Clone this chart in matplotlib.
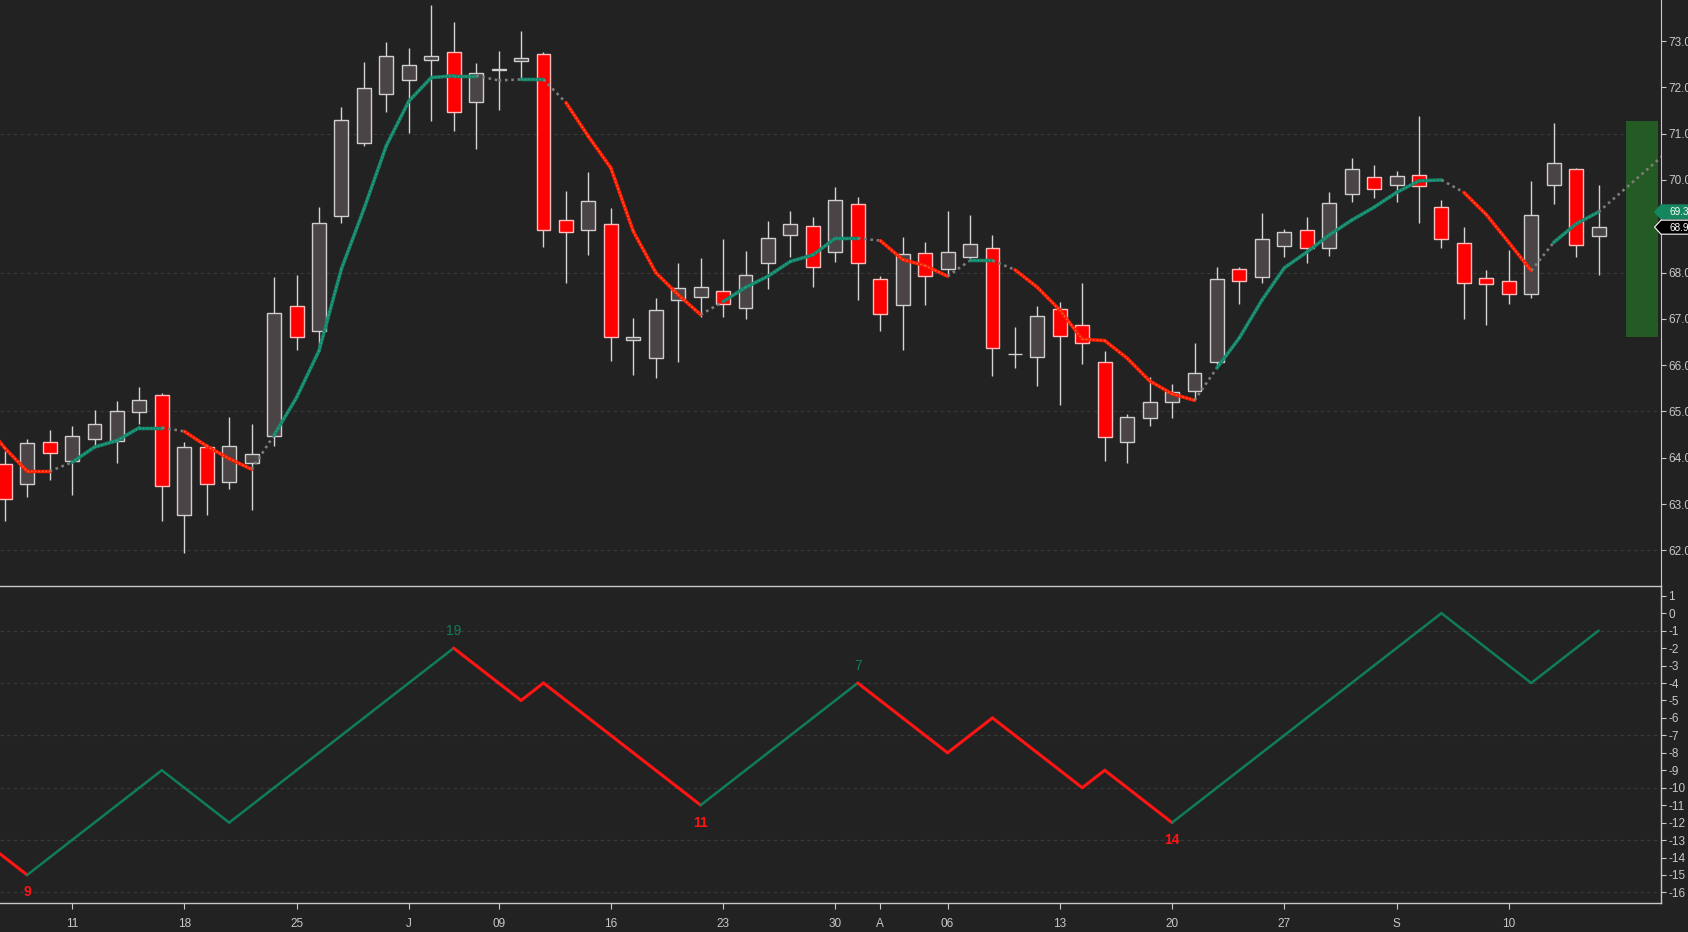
import matplotlib
matplotlib.use('Agg')
import matplotlib.pyplot as plt
import matplotlib.transforms as mtransforms
from matplotlib.patches import Polygon
import numpy as np

plt.rcParams['font.family'] = ['Liberation Sans', 'DejaVu Sans']
plt.rcParams['axes.unicode_minus'] = False

# daily bars, 06 Jun .. 14 Sep
opens = [63.86, 63.43, 64.34, 63.93, 64.40, 64.36, 64.99, 65.35, 62.77, 64.23,
         63.48, 63.89, 64.48, 67.27, 66.74, 69.23, 70.80, 71.85, 72.15, 72.60,
         72.76, 71.68, 72.37, 72.57, 72.73, 69.13, 68.92, 69.05, 66.55, 66.15,
         67.41, 67.47, 67.60, 67.23, 68.20, 68.81, 69.00, 68.44, 69.48, 67.85,
         67.30, 68.42, 68.07, 68.33, 68.53, 66.23, 66.18, 67.21, 66.86, 66.07,
         64.35, 64.86, 65.21, 65.44, 66.07, 68.07, 67.90, 68.57, 68.92, 68.53,
         69.69, 70.06, 69.89, 70.10, 69.41, 68.64, 67.88, 67.81, 67.53, 69.89,
         70.23, 68.79]
highs = [64.15, 64.40, 64.59, 64.69, 65.04, 65.23, 65.52, 65.40, 64.35, 64.30,
         64.87, 64.73, 67.91, 67.95, 69.42, 71.58, 72.55, 72.98, 72.86, 73.78,
         73.41, 72.52, 72.79, 73.22, 72.76, 69.77, 70.18, 69.40, 67.02, 67.44,
         68.21, 68.32, 68.73, 68.47, 69.12, 69.33, 69.19, 69.85, 69.64, 67.92,
         68.77, 68.66, 69.33, 69.25, 68.80, 66.83, 67.27, 67.37, 67.78, 66.31,
         64.94, 65.74, 65.60, 66.47, 68.12, 68.11, 69.28, 68.94, 69.19, 69.73,
         70.48, 70.32, 70.19, 71.39, 69.56, 68.99, 68.06, 68.49, 69.98, 71.23,
         70.26, 69.90]
lows = [62.64, 63.16, 63.52, 63.20, 64.23, 63.88, 64.72, 62.64, 61.95, 62.76,
        63.32, 62.88, 64.25, 66.32, 66.39, 69.08, 70.73, 71.47, 71.02, 71.27,
        71.05, 70.66, 71.52, 72.17, 68.55, 67.77, 68.37, 66.10, 65.78, 65.72,
        66.06, 67.05, 67.03, 66.99, 67.64, 68.34, 67.68, 68.22, 67.40, 66.73,
        66.33, 67.29, 67.92, 68.24, 65.76, 65.93, 65.56, 65.14, 66.02, 63.94,
        63.88, 64.68, 64.85, 65.27, 65.94, 67.31, 67.77, 68.33, 68.20, 68.35,
        69.53, 69.62, 69.52, 69.06, 68.54, 66.99, 66.86, 67.31, 67.46, 69.48,
        68.33, 67.94]
closes = [63.10, 64.32, 64.10, 64.47, 64.73, 65.01, 65.25, 63.40, 64.23, 63.44,
          64.26, 64.08, 67.13, 66.61, 69.06, 71.29, 71.98, 72.67, 72.48, 72.67,
          71.47, 72.32, 72.38, 72.63, 68.92, 68.88, 69.54, 66.61, 66.61, 67.19,
          67.66, 67.69, 67.32, 67.94, 68.74, 69.05, 68.12, 69.56, 68.20, 67.10,
          68.40, 67.92, 68.44, 68.61, 66.37, 66.24, 67.06, 66.63, 66.48, 64.45,
          64.89, 65.21, 65.42, 65.83, 67.85, 67.81, 68.72, 68.87, 68.53, 69.50,
          70.23, 69.80, 70.08, 69.87, 68.73, 67.77, 67.75, 67.53, 69.24, 70.36,
          68.59, 68.98]

# trend line, starts one bar before the first visible candle
trend_line = [64.81,
              64.21, 63.71, 63.71, 63.90, 64.23, 64.37, 64.65, 64.65, 64.57, 64.25,
              63.98, 63.75, 64.49, 65.30, 66.31, 68.08, 69.37, 70.74, 71.70, 72.21,
              72.25, 72.25, 72.15, 72.17, 72.17, 71.67, 70.94, 70.26, 68.89, 68.00,
              67.52, 67.09, 67.37, 67.68, 67.92, 68.24, 68.38, 68.74, 68.74, 68.69,
              68.28, 68.15, 67.92, 68.26, 68.26, 68.06, 67.68, 67.19, 66.56, 66.53,
              66.15, 65.66, 65.38, 65.24, 65.94, 66.59, 67.40, 68.10, 68.44, 68.81,
              69.13, 69.41, 69.73, 69.98, 70.00, 69.73, 69.25, 68.65, 68.04, 68.65,
              69.05, 69.31]
proj_bars = [71, 74]
proj_vals = [69.31, 70.58]
range_box = [72.2, 73.65, 66.6, 71.27]

# swing counter in lower panel (bar -1 .. 71)
counter = [-13,
           -14, -15, -14, -13, -12, -11, -10, -9, -10, -11,
           -12, -11, -10, -9, -8, -7, -6, -5, -4, -3,
           -2, -3, -4, -5, -4, -5, -6, -7, -8, -9,
           -10, -11, -10, -9, -8, -7, -6, -5, -4, -5,
           -6, -7, -8, -7, -6, -7, -8, -9, -10, -9,
           -10, -11, -12, -11, -10, -9, -8, -7, -6, -5,
           -4, -3, -2, -1, 0, -1, -2, -3, -4, -3,
           -2, -1]
pivots = [1, 20, 31, 38, 52]
pivot_counts = [9, 19, 11, 7, 14]

tick_pos = [3, 8, 13, 18, 22, 27, 32, 37, 39, 42, 47, 52, 57, 62, 67]
tick_lbl = ['11', '18', '25', 'J', '09', '16', '23', '30', 'A', '06', '13', '20', '27', 'S', '10']

BG = '#222222'
FG = '#c8c8c8'
GRID = '#3a3a3a'
GREEN = '#12876a'
GREEN_DOT = '#3aa088'
RED = '#ff1a00'
RED_DOT = '#ff6a40'
SUB_GREEN = '#0f7d5c'
SUB_RED = '#ff1414'

fig = plt.figure(figsize=(16.88, 9.32), dpi=100, facecolor=BG)
ax = fig.add_axes([0, 0.3712, 0.984, 0.6288], facecolor=BG)
ax2 = fig.add_axes([0, 0.03112, 0.984, 0.34013], facecolor=BG, sharex=ax)

# ---- candles ----
o = np.array(opens)
h = np.array(highs)
l = np.array(lows)
c = np.array(closes)
x = np.arange(len(o))
up = c >= o
body_lo = np.minimum(o, c)
body_h = np.maximum(np.abs(c - o), 0.02)

ax.vlines(x, l, h, color='#d4d4d4', lw=1.0, zorder=2)
ax.bar(x[up], body_h[up], bottom=body_lo[up], width=0.62, color='#4a4446',
       edgecolor='#cfcfcf', linewidth=1.0, zorder=3)
ax.bar(x[~up], body_h[~up], bottom=body_lo[~up], width=0.62, color='#ff0000',
       edgecolor='#ffbcbc', linewidth=1.0, zorder=3)

# ---- trend line, coloured by direction ----
lx = np.arange(-1, len(trend_line) - 1)
ly = np.array(trend_line)
prev_dir = None
for i in range(1, len(ly)):
    d = np.sign(ly[i] - ly[i - 1])
    if d == 0:
        d = prev_dir if prev_dir is not None else 1
    same = prev_dir is None or d == prev_dir
    seg_x = lx[i - 1:i + 1]
    seg_y = ly[i - 1:i + 1]
    if same:
        base, dots = (GREEN, GREEN_DOT) if d > 0 else (RED, RED_DOT)
        ax.plot(seg_x, seg_y, color=base, lw=2.5, solid_capstyle='round', zorder=5)
        ax.plot(seg_x, seg_y, color=dots, lw=1.0, ls=(0, (1, 1.6)), zorder=6)
    else:
        ax.plot(seg_x, seg_y, color='#7c7c7c', lw=1.9, ls=(0, (1, 1.4)), zorder=5)
    prev_dir = d

ax.plot(proj_bars, proj_vals, color='#7c7c7c', lw=1.9, ls=(0, (1, 1.4)), zorder=5)

# projected range box
ax.fill_between([range_box[0], range_box[1]], range_box[2], range_box[3],
                color='#245a24', lw=0, zorder=1)

# ---- main axis styling ----
ax.set_xlim(-0.21, 73.78)
ax.set_ylim(61.229, 73.886)
ax.set_yticks(np.arange(62, 74, 1))
ax.yaxis.set_major_formatter(plt.FuncFormatter(lambda v, p: f'{v:.2f}'))
ax.yaxis.tick_right()
ax.tick_params(axis='y', colors=FG, labelcolor=FG, length=3.6, width=0.8, pad=1.4, labelsize=8.5)
ax.tick_params(axis='x', bottom=False, labelbottom=False)
for yg in [62, 65, 68, 71]:
    ax.axhline(yg, color=GRID, lw=0.8, ls=(0, (3, 3)), zorder=0)
for s in ['top', 'left', 'bottom']:
    ax.spines[s].set_visible(False)
ax.spines['right'].set_color(FG)


# price tags: arrow shaped labels hanging off the right axis (offsets in pixels)
def price_tag(value, face, edge):
    tr = mtransforms.blended_transform_factory(ax.transAxes, ax.transData)
    anchor = mtransforms.Affine2D() + mtransforms.ScaledTranslation(1.0, value, tr)
    shape = Polygon([[-6.5, 0], [0, 7], [40, 7], [40, -7], [0, -7]], closed=True,
                    transform=anchor, fc=face, ec=edge, lw=0.8, clip_on=False, zorder=10)
    ax.add_patch(shape)
    ax.annotate(f'{value:.2f}', xy=(1.0, value), xycoords=tr, xytext=(6.4, -0.3),
                textcoords='offset points', ha='left', va='center', fontsize=7.2,
                color='white', annotation_clip=False, zorder=11)


price_tag(trend_line[-1], '#14875f', '#14875f')
price_tag(closes[-1], 'black', 'white')

# ---- lower panel ----
cx = np.arange(-1, len(counter) - 1)
cy = np.array(counter)
for i in range(1, len(cy)):
    a = cx[i - 1]
    k = sum(1 for p in pivots if p <= a)
    col = SUB_RED if k % 2 == 0 else SUB_GREEN
    lw = 2.2 if k % 2 == 0 else 1.8
    ax2.plot(cx[i - 1:i + 1], cy[i - 1:i + 1], color=col, lw=lw, solid_capstyle='round', zorder=3)

for j, (p, n) in enumerate(zip(pivots, pivot_counts)):
    val = counter[p + 1]
    is_peak = j % 2 == 1
    ax2.annotate(str(n), (p, val), xytext=(0, 12.5 if is_peak else -12.5),
                 textcoords='offset points', ha='center', va='center', fontsize=10,
                 color=SUB_GREEN if is_peak else SUB_RED,
                 fontweight='normal' if is_peak else 'bold')

ax2.set_ylim(-16.607, 1.559)
ax2.set_yticks(np.arange(-16, 2, 1))
ax2.yaxis.tick_right()
ax2.tick_params(axis='y', colors=FG, labelcolor=FG, length=3.6, width=0.8, pad=1.8, labelsize=8.5)
for yg in [-1, -4, -7, -10, -13, -16]:
    ax2.axhline(yg, color=GRID, lw=0.8, ls=(0, (3, 3)), zorder=0)

ax2.set_xticks(tick_pos)
ax2.set_xticklabels(tick_lbl)
ax2.tick_params(axis='x', colors=FG, labelcolor=FG, length=4.3, width=0.8, pad=6.5, labelsize=8.5)
ax2.spines['left'].set_visible(False)
for s in ['top', 'right', 'bottom']:
    ax2.spines[s].set_color(FG)
    ax2.spines[s].set_linewidth(1.0)

fig.savefig('out.png', dpi=100, facecolor=BG)
